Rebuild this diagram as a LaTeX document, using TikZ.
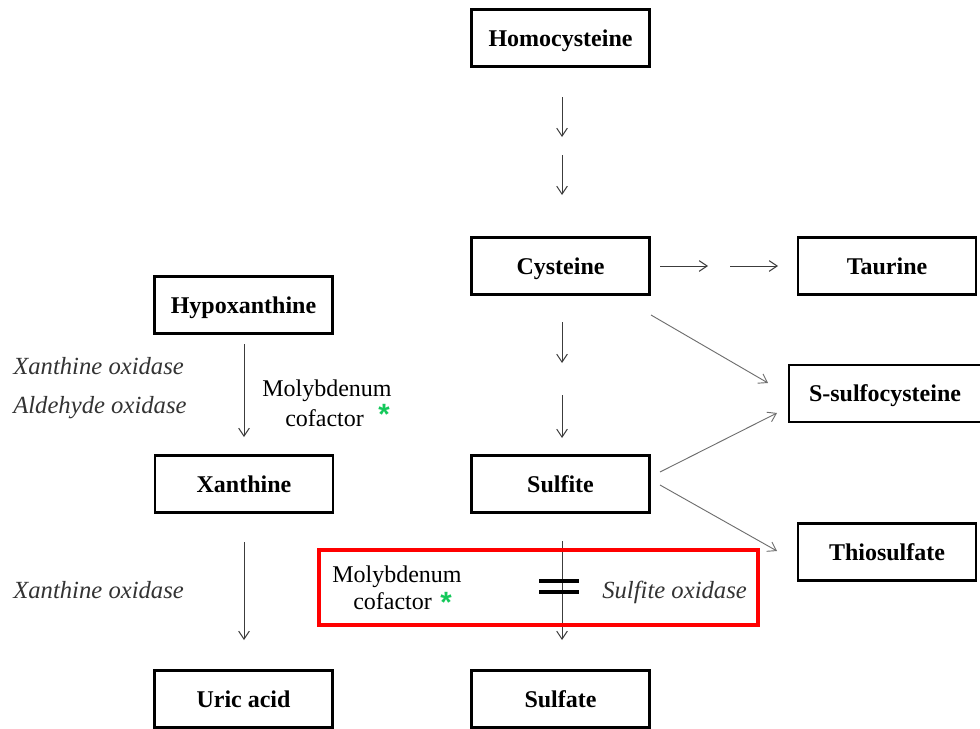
\documentclass[tikz,border=0pt]{standalone}
\usepackage{fontspec}
\setmainfont{Liberation Serif}
\newfontfamily\astfont{Liberation Sans}
\usetikzlibrary{arrows.meta}
\definecolor{astgreen}{RGB}{20,200,90}
\definecolor{linegray}{RGB}{60,60,60}
\definecolor{diaggray}{RGB}{110,110,110}
\begin{document}
\begin{tikzpicture}[x=0.75pt,y=-0.75pt,
  box/.style={draw=black,line width=2.2pt,minimum width=133.5pt,minimum height=42.75pt,
    font=\fontsize{18}{21}\selectfont\bfseries,text height=12pt,text depth=0pt,inner sep=0pt},
  arr/.style={-{Straight Barb[length=6pt,width=8pt]},line width=0.75pt,draw=linegray},
  darr/.style={arr,draw=diaggray,line width=0.7pt},
  lab/.style={font=\fontsize{18}{21}\selectfont,inner sep=0pt},
  ilab/.style={font=\fontsize{18.5}{21}\selectfont\itshape,inner sep=0pt,text=black!80},
  ast/.style={font=\fontsize{22}{22}\selectfont\astfont\bfseries,text=astgreen,inner sep=0pt,
    text height=9pt,text depth=0pt,anchor=base}
]
\useasboundingbox (0,0) rectangle (980,728);
\clip (0,0) rectangle (980,728);

% boxes
\node[box] (homo) at (560.5,38) {Homocysteine};
\node[box] (cys) at (560.5,266) {Cysteine};
\node[box] (taur) at (887,266) {Taurine};
\node[box] (hypo) at (243.5,305) {Hypoxanthine};
\node[box,minimum width=144pt] (ssc) at (885,393.5) {S-sulfocysteine};
\node[box] (thio) at (887,552) {Thiosulfate};
\node[box] (xan) at (244,484) {Xanthine};
\node[box] (sulf) at (560.5,484) {Sulfite};
\node[box] (uric) at (243.5,699) {Uric acid};
\node[box] (sulfate) at (560.5,699) {Sulfate};

% arrow end points
\coordinate (h1a) at (562,97);  \coordinate (h1b) at (562,137);
\coordinate (h2a) at (562,155); \coordinate (h2b) at (562,195);
\coordinate (c1a) at (562,322); \coordinate (c1b) at (562,363);
\coordinate (c2a) at (562,395); \coordinate (c2b) at (562,438);
\coordinate (t1a) at (660,266); \coordinate (t1b) at (708,266);
\coordinate (t2a) at (730,266); \coordinate (t2b) at (778,266);
\coordinate (hxa) at (244,344); \coordinate (hxb) at (244,437);
\coordinate (xua) at (244,542); \coordinate (xub) at (244,640);
\coordinate (ssa) at (562,541); \coordinate (ssb) at (562,640);
\coordinate (cda) at (651,315); \coordinate (cdb) at (768,383);
\coordinate (sda) at (660,472); \coordinate (sdb) at (777,413);
\coordinate (sta) at (660,485); \coordinate (stb) at (777,551);

\draw[arr] (h1a) -- (h1b);
\draw[arr] (h2a) -- (h2b);
\draw[arr] (c1a) -- (c1b);
\draw[arr] (c2a) -- (c2b);
\draw[arr] (t1a) -- (t1b);
\draw[arr] (t2a) -- (t2b);
\draw[arr] (hxa) -- (hxb);
\draw[arr] (xua) -- (xub);
\draw[arr] (ssa) -- (ssb);
\draw[darr] (cda) -- (cdb);
\draw[darr] (sda) -- (sdb);
\draw[darr] (sta) -- (stb);

% block sign
\draw[line width=2.3pt] (539,581) -- (579,581) (539,592) -- (579,592);

% red frame
\draw[red,line width=3pt] (319,550) rectangle (758,625);

% labels
\node[ilab,anchor=base west] (lx1) at (13,374) {Xanthine oxidase};
\node[ilab,anchor=base west] (la1) at (13,413) {Aldehyde oxidase};
\node[ilab,anchor=base west] (lx2) at (13,598) {Xanthine oxidase};
\node[ilab,anchor=base west] (lso) at (602,598) {Sulfite oxidase};

\node[lab,anchor=base west] (mo1) at (262,396) {Molybdenum};
\node[lab,anchor=base west] (co1) at (285,426) {cofactor};
\node[ast] (as1) at (384,424) {*};

\node[lab,anchor=base west] (mo2) at (332,582) {Molybdenum};
\node[lab,anchor=base west] (co2) at (353,609) {cofactor};
\node[ast] (as2) at (446,612) {*};
\end{tikzpicture}
\end{document}
